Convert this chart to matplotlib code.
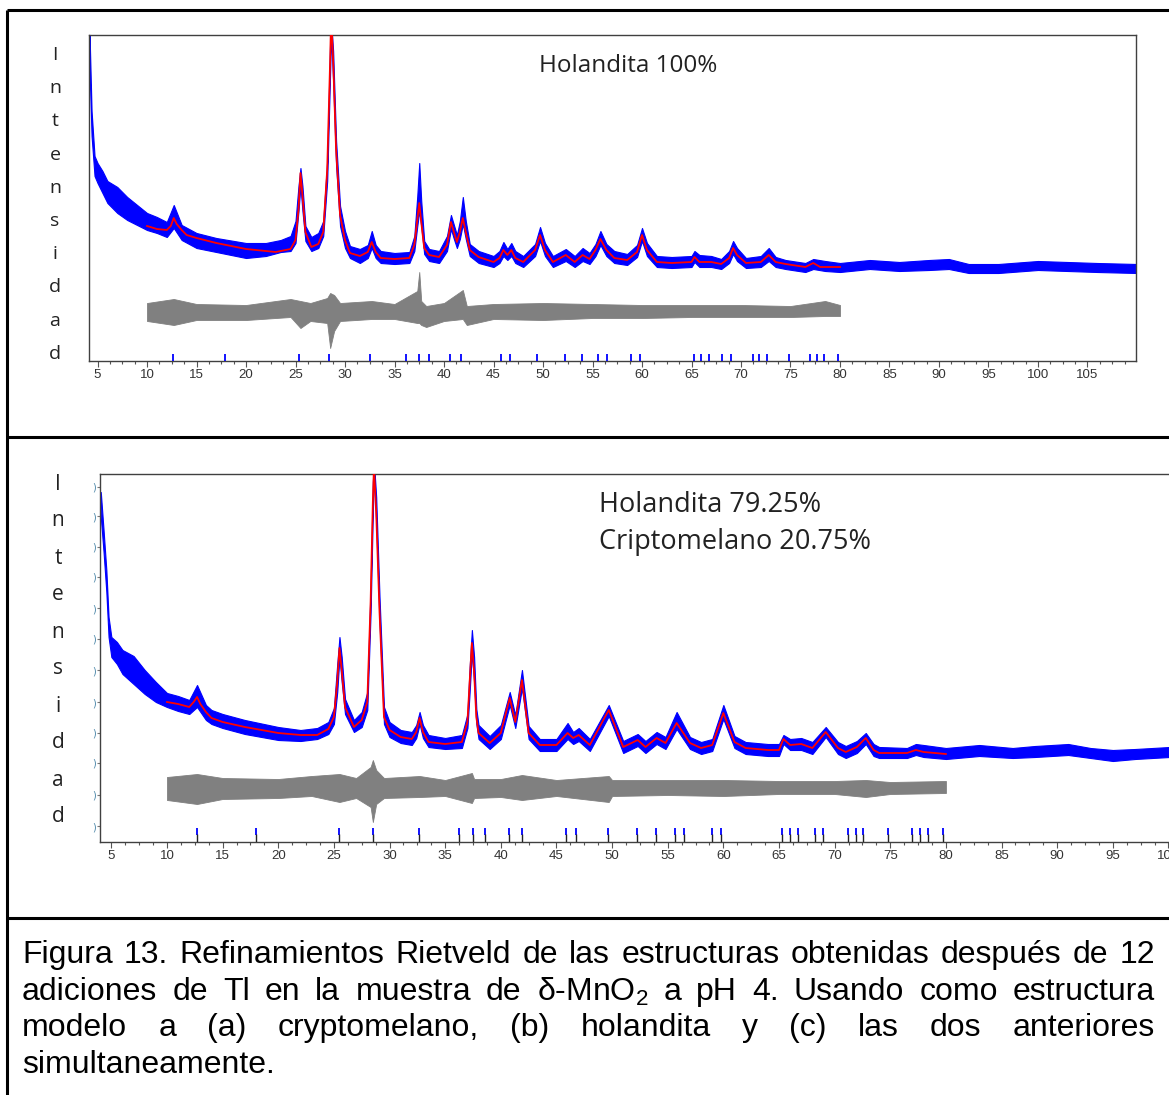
import matplotlib
matplotlib.use("Agg")
import matplotlib.pyplot as plt
from matplotlib.lines import Line2D
from matplotlib.ticker import MultipleLocator

# Figure size in pixels (dpi 100)
W, H = 1169, 1095

cap_font = "Liberation Sans"
cap_size = 23
label_font = "Open Sans"
tick_font = "Liberation Sans"

# ---------------- Panel 1: Holandita 100% ----------------
x1_obs = [4.2, 4.4, 4.7, 5.0, 5.5, 6, 7, 8, 9, 10,
          11, 12, 12.7, 13.5, 15, 17, 20, 22, 23.5, 24.5,
          25.0, 25.3, 25.5, 25.7, 26.0, 26.6, 27.3, 27.8, 28.2, 28.5,
          28.6, 28.8, 29.1, 29.5, 30, 30.5, 31.5, 32.3, 32.7, 33.1,
          33.6, 35, 36.5, 37.0, 37.3, 37.5, 37.7, 38.0, 38.5, 39.5,
          40.3, 40.7, 41.0, 41.3, 41.6, 41.9, 42.2, 42.6, 43.5, 45,
          45.6, 46.0, 46.4, 46.8, 47.2, 48, 49.2, 49.7, 50.2, 51,
          52.3, 53.2, 54.0, 54.7, 55.3, 55.8, 56.4, 57.2, 58.5, 59.5,
          60, 60.5, 61.5, 63, 65.0, 65.3, 65.8, 67, 68, 68.8,
          69.2, 69.6, 70.5, 72.0, 72.8, 73.5, 74.5, 76.5, 77.3, 78.5,
          80, 83, 86, 89, 91, 93, 96, 100, 103, 106, 110]
lo1_obs = [290, 225, 185, 178, 168, 158, 148, 141, 136, 131,
           128, 124, 133, 121, 113, 109, 103, 105, 109, 110,
           118, 150, 175, 150, 120, 110, 113, 125, 180, 290,
           326, 280, 195, 135, 113, 103, 98, 103, 113, 103,
           98, 97, 98, 110, 135, 150, 135, 107, 100, 98,
           110, 132, 122, 113, 122, 137, 122, 105, 98, 94,
           98, 105, 101, 105, 98, 94, 105, 120, 105, 94,
           100, 94, 100, 97, 105, 116, 105, 98, 96, 104,
           120, 105, 94, 93, 94, 99, 94, 94, 92, 98,
           107, 100, 93, 94, 100, 94, 92, 89, 92, 90,
           89, 92, 90, 91, 92, 88, 88, 91, 90, 89, 88]
hi1_obs = [326, 250, 205, 198, 190, 180, 174, 164, 156, 148,
           144, 139, 156, 136, 128, 123, 118, 118, 121, 125,
           140, 175, 193, 175, 135, 124, 128, 140, 200, 320,
           340, 310, 220, 155, 130, 115, 112, 116, 130, 116,
           110, 108, 109, 125, 165, 198, 160, 120, 112, 110,
           125, 146, 136, 126, 140, 164, 140, 117, 110, 105,
           110, 119, 112, 118, 110, 105, 117, 134, 118, 105,
           112, 105, 113, 108, 117, 130, 117, 110, 107, 116,
           133, 118, 105, 104, 105, 110, 106, 105, 102, 110,
           120, 113, 103, 105, 113, 104, 101, 98, 102, 100,
           98, 101, 99, 101, 102, 97, 97, 100, 99, 98, 97]

x1_calc = [10, 11, 12, 12.4, 12.7, 13.0, 13.5, 14, 15, 17,
           20, 23, 24.5, 25.0, 25.3, 25.5, 25.7, 26.0, 26.6, 27.3,
           27.8, 28.2, 28.5, 28.6, 28.8, 29.1, 29.5, 30, 30.5, 31.5,
           32.3, 32.7, 33.1, 33.6, 35, 36.5, 37.0, 37.3, 37.5, 37.7,
           38.0, 38.5, 39.5, 40.3, 40.7, 41.0, 41.3, 41.6, 41.9, 42.2,
           42.6, 43.5, 45, 45.6, 46.0, 46.4, 46.8, 47.2, 48, 49.2,
           49.7, 50.2, 51, 52.3, 53.2, 54.0, 54.7, 55.3, 55.8, 56.4,
           57.2, 58.5, 59.5, 60, 60.5, 61.5, 63, 65.0, 65.3, 65.8,
           67, 68, 68.8, 69.2, 69.6, 70.5, 72.0, 72.8, 73.5, 74.5,
           76.5, 77.3, 78, 80]
y1_calc = [135, 132, 131, 135, 143, 137, 131, 126, 123, 118,
           112, 109, 112, 121, 151, 188, 166, 129, 114, 117,
           129, 191, 301, 345, 301, 211, 146, 121, 108, 105,
           109, 119, 109, 103, 102, 103, 116, 141, 158, 139,
           113, 106, 104, 116, 139, 129, 119, 129, 143, 129,
           111, 104, 99, 103, 111, 106, 111, 103, 99, 111,
           126, 111, 99, 106, 99, 106, 102, 111, 122, 111,
           103, 101, 109, 126, 111, 99, 98, 99, 104, 99,
           99, 97, 103, 113, 106, 98, 99, 106, 99, 97,
           94, 98, 94, 94]

x1_diff = [10, 12.7, 15, 20, 23, 24.5, 25.5, 26.5, 28.2, 28.5,
           28.9, 29.5, 32.7, 35, 37.3, 37.5, 37.7, 38.2, 40, 41.9,
           42.3, 45, 50, 55, 60, 65, 70, 75, 78.5, 80]
lo1_diff = [40, 36, 41, 41, 43, 44, 33, 40, 38, 13,
            30, 40, 42, 42, 38, 38, 36, 34, 40, 42,
            36, 42, 41, 43, 43, 44, 44, 44, 45, 45]
hi1_diff = [58, 62, 57, 56, 60, 62, 60, 58, 63, 68,
            66, 58, 60, 57, 70, 89, 60, 55, 58, 71,
            55, 57, 58, 57, 56, 56, 56, 55, 60, 56]

hkl1 = [12.58, 17.91, 25.32, 28.43, 32.57, 36.18, 37.43, 38.47, 40.56, 41.68,
        45.72, 46.70, 49.43, 52.20, 53.95, 55.56, 56.48, 58.84, 59.75, 65.25,
        65.92, 66.73, 68.11, 68.99, 71.24, 71.85, 72.60, 74.85, 76.98, 77.65,
        78.39, 79.77]

# ---------------- Panel 2: Holandita + Criptomelano ----------------
x2_obs = [4.05, 4.3, 4.55, 4.75, 5.0, 5.5, 6, 7, 8, 9,
          10, 11, 12, 12.7, 13.5, 14, 15, 17, 20, 22,
          23.5, 24.5, 25.0, 25.3, 25.5, 25.7, 26.0, 26.8, 27.5, 28.0,
          28.3, 28.5, 28.6, 28.8, 29.1, 29.5, 30, 31, 32, 32.4,
          32.7, 33.0, 33.5, 35, 36.5, 37.0, 37.2, 37.4, 37.6, 37.8,
          38, 39, 40, 40.8, 41.3, 41.9, 42.5, 43.5, 45, 46,
          46.5, 47, 48, 49.7, 51, 52.3, 53, 54, 54.8, 55.8,
          57, 58, 59, 60, 61, 62, 64, 65, 65.4, 66,
          67, 68, 69.2, 70.3, 71, 72, 72.8, 73.5, 74, 76.5,
          77.3, 78, 80, 83, 86, 88, 91, 93, 95, 97, 100.1]
lo2_obs = [325, 290, 250, 205, 185, 178, 168, 158, 148, 140,
           135, 131, 128, 135, 122, 118, 114, 108, 102, 101,
           103, 108, 118, 150, 185, 160, 128, 110, 115, 132,
           230, 330, 368, 320, 220, 118, 105, 99, 97, 104,
           118, 104, 95, 93, 94, 114, 150, 190, 160, 118,
           103, 93, 103, 137, 114, 154, 103, 91, 91, 103,
           98, 101, 91, 126, 89, 96, 89, 98, 93, 113,
           93, 88, 91, 123, 94, 88, 86, 86, 98, 92,
           92, 88, 105, 88, 84, 89, 98, 86, 84, 84,
           87, 85, 83, 86, 84, 85, 87, 84, 81, 83, 85]
hi2_obs = [350, 312, 272, 225, 205, 200, 192, 186, 172, 160,
           149, 146, 142, 157, 137, 132, 128, 122, 115, 112,
           114, 120, 134, 178, 205, 185, 143, 122, 130, 150,
           255, 360, 380, 345, 245, 135, 120, 112, 110, 117,
           130, 117, 107, 104, 107, 128, 175, 212, 185, 133,
           117, 106, 117, 150, 127, 172, 116, 103, 103, 119,
           110, 114, 103, 137, 101, 108, 101, 110, 105, 130,
           105, 100, 103, 137, 106, 100, 98, 98, 107, 103,
           104, 100, 115, 100, 96, 101, 109, 98, 95, 94,
           98, 97, 94, 97, 94, 96, 98, 94, 92, 93, 95]

x2_calc = [10, 11, 12, 12.4, 12.7, 13.0, 13.5, 14, 15, 17,
           20, 22, 23.5, 24.5, 25.0, 25.3, 25.5, 25.7, 26.0, 26.8,
           27.5, 28.0, 28.3, 28.5, 28.6, 28.8, 29.1, 29.5, 30, 31,
           32, 32.4, 32.7, 33.0, 33.5, 35, 36.5, 37.0, 37.2, 37.4,
           37.6, 37.8, 38, 39, 40, 40.8, 41.3, 41.9, 42.5, 43.5,
           45, 46, 46.5, 47, 48, 49.7, 51, 52.3, 53, 54,
           54.8, 55.8, 57, 58, 59, 60, 61, 62, 64, 65,
           65.4, 66, 67, 68, 69.2, 70.3, 71, 72, 72.8, 73.5,
           74, 76.5, 77.3, 78, 79, 80]
y2_calc = [140, 138, 135, 140, 145, 138, 130, 124, 120, 115,
           109, 107, 107, 113, 125, 160, 194, 172, 135, 115,
           122, 140, 240, 340, 375, 330, 230, 125, 112, 105,
           103, 110, 124, 110, 100, 98, 100, 120, 160, 199,
           170, 125, 109, 99, 109, 144, 120, 162, 109, 97,
           97, 109, 104, 107, 97, 132, 95, 102, 95, 104,
           99, 119, 99, 94, 97, 129, 100, 94, 92, 92,
           103, 97, 98, 94, 110, 94, 90, 95, 104, 92,
           89, 89, 92, 90, 89, 88]

x2_diff = [10, 12.7, 15, 20, 23, 25.5, 27, 28.3, 28.5, 28.8,
           29.5, 32.7, 35, 37.4, 37.6, 40, 41.9, 45, 49.7, 50,
           55, 60, 65, 70, 72.8, 75, 80]
lo2_diff = [42, 38, 43, 44, 46, 40, 44, 35, 20, 38,
            44, 45, 46, 39, 44, 45, 42, 46, 40, 46,
            47, 46, 48, 48, 45, 48, 49]
hi2_diff = [65, 68, 64, 63, 66, 68, 64, 75, 82, 72,
            64, 66, 62, 69, 63, 63, 67, 62, 66, 62,
            62, 62, 61, 61, 62, 60, 61]

hkl2 = [12.67, 17.97, 25.46, 28.49, 32.67, 36.27, 37.47, 38.58, 40.73, 41.87,
        45.83, 46.75, 49.60, 52.21, 53.97, 55.62, 56.46, 58.94, 59.75, 65.23,
        65.98, 66.73, 68.23, 68.97, 71.22, 71.91, 72.57, 74.81, 76.97, 77.66,
        78.41, 79.75]

# clipped tick labels on the left axis of panel 2
y2_ticks = [355, 326, 295, 265, 234, 203, 172, 140, 109, 79, 47, 16]

caption_lines = [
    "Figura 13. Refinamientos Rietveld de las estructuras obtenidas después de 12",
    "adiciones de Tl en la muestra de δ-Mn$\\mathregular{O_2}$ a pH 4. Usando como estructura",
    "modelo a (a) cryptomelano, (b) holandita y (c) las dos anteriores",
    "simultaneamente.",
]

# ---------------------------------------------------------------
plt.rcParams["mathtext.fontset"] = "custom"
plt.rcParams["mathtext.rm"] = cap_font

fig = plt.figure(figsize=(W / 100, H / 100), dpi=100)
fig.patch.set_facecolor("white")


def fig_box(left, top, right, bottom):
    # pixel box (from top-left) -> figure fraction rect
    return [left / W, 1 - bottom / H, (right - left) / W, (bottom - top) / H]


def style_xaxis(ax, xmax_label):
    ticks = list(range(5, xmax_label + 1, 5))
    ax.set_xticks(ticks)
    ax.set_xticklabels([str(t) for t in ticks], family=tick_font, fontsize=9.5,
                       color="#333333")
    ax.xaxis.set_minor_locator(MultipleLocator(1.25))
    ax.tick_params(axis="x", which="major", length=4, width=0.8, color="#555555", pad=2)
    ax.tick_params(axis="x", which="minor", length=2.5, width=0.8, color="#555555")


# Panel 1 axes
ax1 = fig.add_axes(fig_box(89, 35, 1136, 361))
ax1.fill_between(x1_obs, lo1_obs, hi1_obs, color="#0000ff", lw=0.8, zorder=2)
ax1.plot(x1_calc, y1_calc, color="#ff0000", lw=1.3, zorder=3)
ax1.fill_between(x1_diff, lo1_diff, hi1_diff, color="#808080", lw=0.6, zorder=2)
ax1.vlines(hkl1, 0, 7, color="#0000ff", lw=1.3, zorder=3)
ax1.set_ylim(0, 326)
ax1.set_yticks([])
for sp in ax1.spines.values():
    sp.set_color("#404040")
    sp.set_linewidth(1.0)
style_xaxis(ax1, 105)
ax1.set_xlim(4.14, 109.9)
fig.text(628 / W, 1 - 66 / H, "Holandita 100%", ha="center", va="center",
         fontsize=17.5, family=label_font, color="#222222")

# Panel 2 axes (right side runs off the page)
ax2 = fig.add_axes(fig_box(100, 474, 1169, 842))
ax2.fill_between(x2_obs, lo2_obs, hi2_obs, color="#0000ff", lw=0.8, zorder=2)
ax2.plot(x2_calc, y2_calc, color="#ff0000", lw=1.3, zorder=3)
ax2.fill_between(x2_diff, lo2_diff, hi2_diff, color="#808080", lw=0.6, zorder=2)
ax2.vlines(hkl2, 7, 14, color="#0000ff", lw=1.3, zorder=3)
ax2.vlines(hkl2, 0, 8, color="#222222", lw=1.0, zorder=3)
ax2.set_ylim(0, 368)
ax2.spines["right"].set_visible(False)
for sp in ["left", "top", "bottom"]:
    ax2.spines[sp].set_color("#404040")
    ax2.spines[sp].set_linewidth(1.0)
style_xaxis(ax2, 100)
ax2.set_xlim(3.98, 100.05)
ax2.set_yticks(y2_ticks)
ax2.set_yticklabels([")"] * len(y2_ticks))
ax2.tick_params(axis="y", length=2, width=0.8, color="#777777", labelsize=7,
                labelcolor="#4a86a8", pad=1)
fig.text(599 / W, 1 - 505 / H, "Holandita 79.25%", ha="left", va="center",
         fontsize=19.5, family=label_font, color="#222222")
fig.text(599 / W, 1 - 542 / H, "Criptomelano 20.75%", ha="left", va="center",
         fontsize=19.5, family=label_font, color="#222222")

# Vertical "Intensidad" labels, one letter per line
word = "Intensidad"
for i, ch in enumerate(word):
    fig.text(55 / W, 1 - (55 + i * 33.2) / H, ch, ha="center", va="center",
             fontsize=14, family=label_font, color="#222222")
    fig.text(58 / W, 1 - (484 + i * 37.0) / H, ch, ha="center", va="center",
             fontsize=15, family=label_font, color="#222222")

# Outer frame and separators
frame = dict(color="black", lw=2.2, transform=fig.transFigure, solid_capstyle="butt")
fig.add_artist(Line2D([7 / W, 7 / W], [0, 1 - 10 / H], **frame))
fig.add_artist(Line2D([7 / W, 1], [1 - 10 / H, 1 - 10 / H], **frame))
fig.add_artist(Line2D([7 / W, 1], [1 - 437 / H, 1 - 437 / H], **frame))
fig.add_artist(Line2D([7 / W, 1], [1 - 918 / H, 1 - 918 / H], **frame))

# Caption, justified between x=22 and x=1155
cap_left, cap_right = 22, 1155
cap_y = [955, 992, 1028, 1065]
fig.canvas.draw()
renderer = fig.canvas.get_renderer()
for i, line in enumerate(caption_lines):
    words = line.split(" ")
    objs = [fig.text(0, 1 - cap_y[i] / H, w, ha="left", va="center", fontsize=cap_size,
                     family=cap_font, color="black") for w in words]
    widths = [o.get_window_extent(renderer).width for o in objs]
    if i < len(caption_lines) - 1 and len(words) > 1:
        gap = (cap_right - cap_left - sum(widths)) / (len(words) - 1)
    else:
        gap = 0.28 * cap_size
    xpos = cap_left
    for o, w in zip(objs, widths):
        o.set_x(xpos / W)
        xpos += w + gap

fig.savefig("out.png", dpi=100)
